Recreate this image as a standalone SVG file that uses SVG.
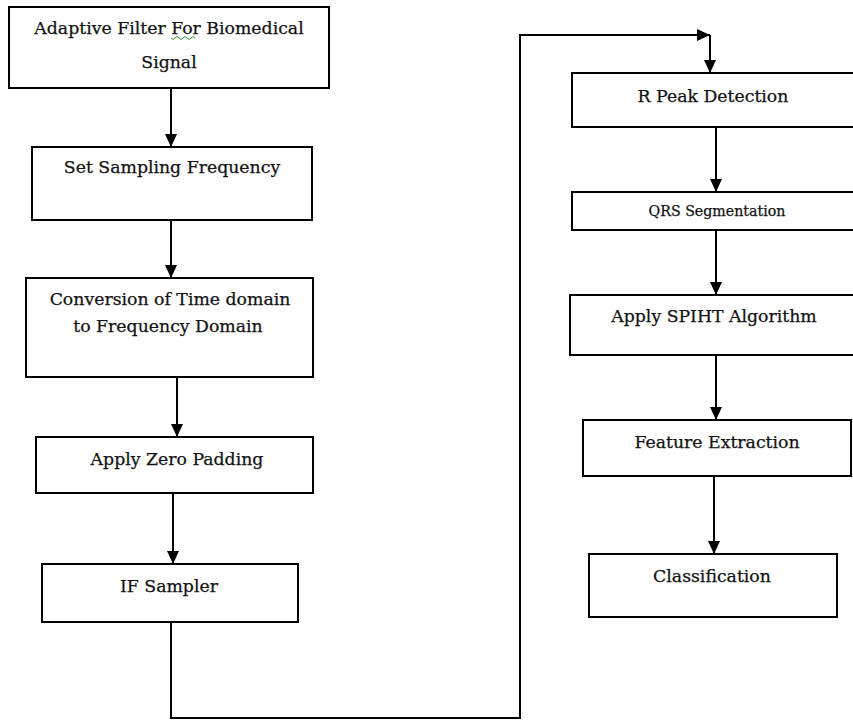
<svg xmlns="http://www.w3.org/2000/svg" width="853" height="722" viewBox="0 0 853 722">
<defs>
<marker id="arr" markerUnits="userSpaceOnUse" markerWidth="14" markerHeight="12" refX="13" refY="6" orient="auto">
<path d="M0,0 L13,6 L0,12 z" fill="#000"/>
</marker>
</defs>
<style>
.box{fill:#fff;stroke:#000;stroke-width:2}
.t{font-family:"DejaVu Serif","Liberation Serif",serif;font-size:17.3px;fill:#111;stroke:#111;stroke-width:0.25;text-anchor:middle}
.s{font-size:14.2px}
.c{fill:none;stroke:#000;stroke-width:2}
</style>
<rect width="853" height="722" fill="#fff"/>
<g id="connectors">
<line class="c" x1="171" y1="88" x2="171" y2="147" marker-end="url(#arr)"/>
<line class="c" x1="171" y1="220" x2="171" y2="278" marker-end="url(#arr)"/>
<line class="c" x1="177" y1="377" x2="177" y2="437" marker-end="url(#arr)"/>
<line class="c" x1="173" y1="493" x2="173" y2="564" marker-end="url(#arr)"/>
<polyline class="c" points="171,622 171,718 520,718 520,35 710,35" marker-end="url(#arr)"/>
<line class="c" x1="710" y1="35" x2="710" y2="73" marker-end="url(#arr)"/>
<line class="c" x1="716" y1="127" x2="716" y2="192" marker-end="url(#arr)"/>
<line class="c" x1="716" y1="230" x2="716" y2="295" marker-end="url(#arr)"/>
<line class="c" x1="716" y1="355" x2="716" y2="420" marker-end="url(#arr)"/>
<line class="c" x1="714" y1="476" x2="714" y2="554" marker-end="url(#arr)"/>
</g>
<g id="n1">
<rect class="box" x="9" y="7" width="320" height="81"/>
<text class="t" x="169" y="34">Adaptive Filter For Biomedical</text>
<text class="t" x="169" y="68">Signal</text>
<path d="M171,38 q2,3 4,0 t4,0 t4,0 t4,0 t4,0 t4,0" fill="none" stroke="#3a9a3a" stroke-width="1"/>
</g>
<g id="n2">
<rect class="box" x="32" y="147" width="280" height="73"/>
<text class="t" x="172" y="173">Set Sampling Frequency</text>
</g>
<g id="n3">
<rect class="box" x="26" y="278" width="287" height="99"/>
<text class="t" x="170" y="305">Conversion of Time domain</text>
<text class="t" x="168" y="332">to Frequency Domain</text>
</g>
<g id="n4">
<rect class="box" x="36" y="437" width="277" height="56"/>
<text class="t" x="177" y="465">Apply Zero Padding</text>
</g>
<g id="n5">
<rect class="box" x="42" y="564" width="256" height="58"/>
<text class="t" x="169" y="592">IF Sampler</text>
</g>
<g id="n6">
<rect class="box" x="572" y="73" width="282" height="54"/>
<text class="t" x="713" y="102">R Peak Detection</text>
</g>
<g id="n7">
<rect class="box" x="572" y="192" width="282" height="38"/>
<text class="t s" x="717" y="216">QRS Segmentation</text>
</g>
<g id="n8">
<rect class="box" x="570" y="295" width="284" height="60"/>
<text class="t" x="714" y="322">Apply SPIHT Algorithm</text>
</g>
<g id="n9">
<rect class="box" x="583" y="420" width="268" height="56"/>
<text class="t" x="717" y="448">Feature Extraction</text>
</g>
<g id="n10">
<rect class="box" x="589" y="554" width="248" height="63"/>
<text class="t" x="712" y="582">Classification</text>
</g>
</svg>
